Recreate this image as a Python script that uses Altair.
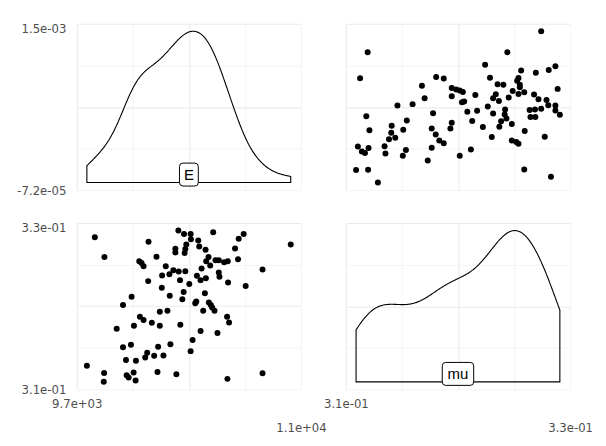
import altair as alt
import numpy as np
import pandas as pd

# ---- data (pairs of E and mu) ----
E_vals = [9804, 9862, 9756, 9860, 9858, 9974, 10026, 9936, 9974, 10022,
          9992, 10040, 10038, 9996, 10008, 10050, 10052, 10128, 10176, 10072,
          10086, 10098, 10126, 10076, 10098, 10148, 10196, 10196, 10242, 10186,
          10120, 10108, 10162, 10218, 10260, 10182, 10296, 10210, 10208, 10232,
          10254, 10256, 10278, 10308, 10290, 10290, 10310, 10318, 10332, 10340,
          10320, 10342, 10382, 10384, 10356, 10350, 10346, 10350, 10374, 10428,
          10434, 10472, 10490, 10476, 10448, 10420, 10442, 10474, 10500, 10518,
          10532, 10552, 10584, 10606, 10552, 10556, 10608, 10468, 10416, 10410,
          10492, 10504, 10512, 10526, 10458, 10442, 10394, 10382, 10544, 10602,
          10614, 10604, 10650, 10672, 10702, 10668, 10714, 10816, 10816, 10986]
mu_vals = [0.32832, 0.32592, 0.31276, 0.31188, 0.3108, 0.32012, 0.32112, 0.31724, 0.315, 0.31528,
           0.31344, 0.3176, 0.31192, 0.3116, 0.31132, 0.31096, 0.31336, 0.32776, 0.32596, 0.3254,
           0.3252, 0.3248, 0.323, 0.31868, 0.31828, 0.31796, 0.3176, 0.31928, 0.3194, 0.31504,
           0.31432, 0.31376, 0.31396, 0.314, 0.31536, 0.312, 0.31172, 0.32368, 0.3222, 0.3248,
           0.32384, 0.32124, 0.32432, 0.32912, 0.32692, 0.32648, 0.32416, 0.32312, 0.3208, 0.32168,
           0.31772, 0.32872, 0.32872, 0.32808, 0.32744, 0.32688, 0.3264, 0.3242, 0.32264, 0.32792,
           0.3272, 0.3268, 0.32592, 0.3254, 0.32452, 0.32364, 0.32312, 0.32336, 0.32488, 0.32892,
           0.32552, 0.32552, 0.32528, 0.3254, 0.32404, 0.32352, 0.32284, 0.32152, 0.32052, 0.32032,
           0.3204, 0.32012, 0.3198, 0.3194, 0.3194, 0.31696, 0.31588, 0.31452, 0.31672, 0.31868,
           0.318, 0.31116, 0.32696, 0.32812, 0.32872, 0.32564, 0.3224, 0.3244, 0.31184, 0.32744]

var_names = ["E", "mu"]
E_limits = [9695, 11048]
mu_limits = [0.30988, 0.33004]
dens_limits = [-0.05, 1.05]
E_tick_text = ["9.7e+03", "1.1e+04"]
mu_tick_text = ["3.1e-01", "3.3e-01"]
densE_tick_text = ["-7.2e-05", "1.5e-03"]

df = pd.DataFrame({"E": E_vals, "mu": mu_vals})


def nrd0(v):
    v = np.asarray(v, float)
    q75, q25 = np.percentile(v, [75, 25])
    s = min(v.std(ddof=1), (q75 - q25) / 1.34)
    return float(0.9 * s * len(v) ** -0.2)


W, H = 225, 167
FONT = "DejaVu Sans"
LBL = "#4D4D4D"
GRID = "#EBEBEB"


def grid_vals(lim):
    lo, hi = lim
    return [lo + k * (hi - lo) / 4 for k in range(5)]


def axis(lim, orient, text=None):
    vals = grid_vals(lim)
    eps = (lim[1] - lim[0]) * 1e-3
    major = (0, 2) if orient == "x" else (2, 4)
    test = " || ".join(f"abs(datum.value - ({vals[k]})) < {eps}" for k in major)
    kw = dict(values=vals, domain=False, ticks=False, title=None, grid=True,
              gridColor=GRID,
              gridWidth={"condition": {"test": test, "value": 1.1}, "value": 0.55})
    if text is None:
        kw.update(labels=False, minExtent=0, maxExtent=0)
    else:
        lo_t = vals[0] + eps
        hi_t = vals[4] - eps
        kw.update(labels=True,
                  labelExpr=f"datum.value < {lo_t} ? '{text[0]}' : datum.value > {hi_t} ? '{text[1]}' : ''",
                  labelFont=FONT, labelFontSize=11.7, labelColor=LBL,
                  labelOverlap=False, labelFlush=False, labelBound=False)
        if orient == "x":
            kw.update(labelAlign="center", labelBaseline="top",
                      labelPadding={"condition": {"test": f"datum.value > {hi_t}", "value": 33},
                                    "value": 9})
        else:
            kw.update(labelAlign="right",
                      labelBaseline={"condition": {"test": f"datum.value > {hi_t}", "value": "top"},
                                     "value": "middle"},
                      labelPadding=11, minExtent=64, maxExtent=64)
    return alt.Axis(**kw)


def rr_path(w, r=0.3):
    h = 1
    return (f"M{-w + r},{-h} L{w - r},{-h} Q{w},{-h} {w},{-h + r} L{w},{h - r} "
            f"Q{w},{h} {w - r},{h} L{-w + r},{h} Q{-w},{h} {-w},{h - r} "
            f"L{-w},{-h + r} Q{-w},{-h} {-w + r},{-h} Z")


def sc(lim):
    return alt.Scale(domain=lim, nice=False, zero=False)


def density_panel(var, lim, xaxis, yaxis, name, halfw):
    base = (alt.Chart(df)
            .transform_density(var, as_=[var, "density"], bandwidth=nrd0(df[var]), steps=300)
            .transform_joinaggregate(dmax="max(density)")
            .transform_calculate(dn="datum.density / datum.dmax"))
    area = base.mark_area(fillOpacity=0, stroke="black", strokeWidth=1.1).encode(
        x=alt.X(f"{var}:Q", scale=sc(lim), axis=xaxis),
        y=alt.Y("dn:Q", scale=sc(dens_limits), axis=yaxis),
        y2=alt.datum(0))
    lab_df = pd.DataFrame({"name": [name], "pos": [(lim[0] + lim[1]) / 2]})
    lab = alt.Chart(lab_df)
    box = lab.mark_point(shape=rr_path(halfw), size=530, filled=True, fill="white",
                         stroke="black", strokeWidth=1, opacity=1, fillOpacity=1,
                         strokeOpacity=1, yOffset=-8).encode(
        x=alt.X("pos:Q", scale=sc(lim), axis=xaxis),
        y=alt.datum(0))
    txt = lab.mark_text(font="Liberation Sans", fontSize=15, color="black",
                        baseline="middle", align="center", yOffset=-7.5).encode(
        x=alt.X("pos:Q", scale=sc(lim), axis=xaxis),
        y=alt.datum(0),
        text="name:N")
    return alt.layer(area, box, txt).properties(width=W, height=H)


def scatter_panel(xv, xl, yv, yl, xaxis, yaxis):
    return alt.Chart(df).mark_circle(size=36, color="black", opacity=1).encode(
        x=alt.X(f"{xv}:Q", scale=sc(xl), axis=xaxis),
        y=alt.Y(f"{yv}:Q", scale=sc(yl), axis=yaxis),
    ).properties(width=W, height=H)


tl = density_panel("E", E_limits, axis(E_limits, "x"),
                   axis(dens_limits, "y", densE_tick_text), var_names[0], 0.82)
tr = scatter_panel("mu", mu_limits, "E", E_limits,
                   axis(mu_limits, "x"), axis(E_limits, "y"))
bl = scatter_panel("E", E_limits, "mu", mu_limits,
                   axis(E_limits, "x", E_tick_text), axis(mu_limits, "y", mu_tick_text))
br = density_panel("mu", mu_limits, axis(mu_limits, "x", mu_tick_text),
                   axis(dens_limits, "y"), var_names[1], 1.37)

chart = (alt.concat(tl, tr, bl, br, columns=2,
                    spacing={"row": 33, "column": 45}, bounds="flush")
         .properties(padding={"left": 5, "top": 15, "right": 5, "bottom": 5},
                     background="white")
         .configure_view(stroke=None))

chart.save("out.html", embed_options={"renderer": "svg", "actions": False})
